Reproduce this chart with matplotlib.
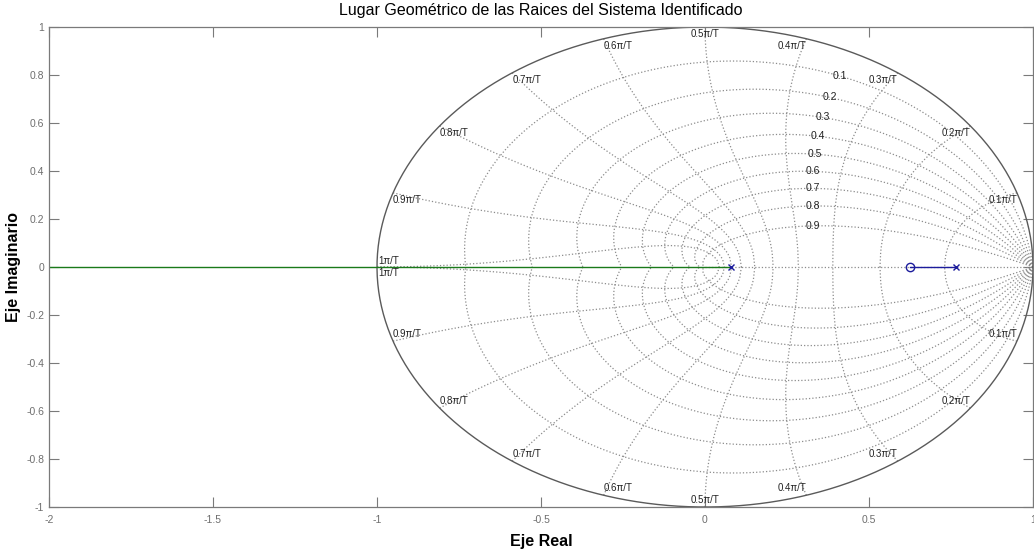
import numpy as np
import matplotlib
matplotlib.use("Agg")
import matplotlib.pyplot as plt

plt.rcParams['font.family'] = ['Liberation Sans', 'DejaVu Sans']

# root locus data (z-plane)
poles = [0.079, 0.765]
zeros = [0.625]
branch_left_start = 0.079    # branch going to -inf along the real axis
branch_right = (0.765, 0.625)  # pole -> zero

# zgrid values
zetas = [0.1, 0.2, 0.3, 0.4, 0.5, 0.6, 0.7, 0.8, 0.9]
wn_fracs = [0.1, 0.2, 0.3, 0.4, 0.5, 0.6, 0.7, 0.8, 0.9, 1.0]
wn_labels = ['0.1π/T', '0.2π/T', '0.3π/T', '0.4π/T', '0.5π/T',
             '0.6π/T', '0.7π/T', '0.8π/T', '0.9π/T', '1π/T']

xticks = [-2, -1.5, -1, -0.5, 0, 0.5, 1]
yticks = [-1, -0.8, -0.6, -0.4, -0.2, 0, 0.2, 0.4, 0.6, 0.8, 1]

grid_c = '#8c8c8c'
axis_c = '#7a7a7a'
lab_c = '#222222'

fig = plt.figure(figsize=(10.34, 5.49), dpi=100)
ax = fig.add_axes([49/1034, 42/549, 984/1034, 480/549])

# damping ratio curves
th = np.linspace(0, np.pi, 200)
for z in zetas:
    m = z / np.sqrt(1 - z**2)
    zz = np.exp(th * (-m + 1j))
    ax.plot(zz.real, zz.imag, ':', color=grid_c, lw=0.9)
    ax.plot(zz.real, -zz.imag, ':', color=grid_c, lw=0.9)
    # label at wn = 0.35*pi
    w = 0.35 * np.pi
    p = np.exp(-z * w + 1j * w * np.sqrt(1 - z**2))
    ax.text(p.real, p.imag, '%.1f' % z, fontsize=7.5, ha='center', va='center', color=lab_c)

# zeta = 1 segment on real axis
ax.plot([0, 1], [0, 0], ':', color=grid_c, lw=0.9)

# natural frequency curves
zl = np.linspace(0, 1, 60)
for f, lab in zip(wn_fracs, wn_labels):
    w = f * np.pi
    zz = np.exp(-zl * w + 1j * w * np.sqrt(1 - zl**2))
    ax.plot(zz.real, zz.imag, ':', color=grid_c, lw=0.9)
    ax.plot(zz.real, -zz.imag, ':', color=grid_c, lw=0.9)
    cx, cy = np.cos(w), np.sin(w)
    if f == 1.0:
        ax.text(cx + 0.005, 0.004, lab, fontsize=7, ha='left', va='bottom', color=lab_c)
        ax.text(cx + 0.005, -0.004, lab, fontsize=7, ha='left', va='top', color=lab_c)
        continue
    if f < 0.5:
        ha = 'right'
    elif f > 0.5:
        ha = 'left'
    else:
        ha = 'center'
    ax.text(cx, cy - 0.01, lab, fontsize=7, ha=ha, va='top', color=lab_c)
    ax.text(cx, -cy + 0.01, lab, fontsize=7, ha=ha, va='bottom', color=lab_c)

# unit circle
t = np.linspace(0, 2 * np.pi, 400)
ax.plot(np.cos(t), np.sin(t), '-', color='#5a5a5a', lw=1.0)

# root locus branches
ax.plot([-3, branch_left_start], [0, 0], '-', color='#1a7a1a', lw=1.0)
ax.plot(list(branch_right), [0, 0], '-', color='#1c1c9c', lw=1.0)
ax.plot(poles, [0, 0], 'x', color='#1c1c9c', ms=4, mew=1.0)
ax.plot(zeros, [0], 'o', mfc='none', mec='#1c1c9c', ms=6, mew=1.0)

ax.set_xlim(-2, 1)
ax.set_ylim(-1, 1)
ax.set_xticks(xticks)
ax.set_xticklabels(['-2', '-1.5', '-1', '-0.5', '0', '0.5', '1'])
ax.set_yticks(yticks)
ax.set_yticklabels(['-1', '-0.8', '-0.6', '-0.4', '-0.2', '0', '0.2', '0.4', '0.6', '0.8', '1'])
ax.tick_params(direction='in', length=7, width=0.8, colors=axis_c, labelsize=7.5,
               top=True, right=True, labelcolor='#6e6e6e')
ax.tick_params(axis='x', pad=6)
for s in ax.spines.values():
    s.set_color(axis_c)
    s.set_linewidth(0.9)

ax.set_title('Lugar Geométrico de las Raices del Sistema Identificado', fontsize=11.5, pad=9)
ax.set_xlabel('Eje Real', fontsize=11.5, fontweight='bold', labelpad=6)
ax.set_ylabel('Eje Imaginario', fontsize=11.5, fontweight='bold', labelpad=4)

fig.savefig('out.png', dpi=100)
